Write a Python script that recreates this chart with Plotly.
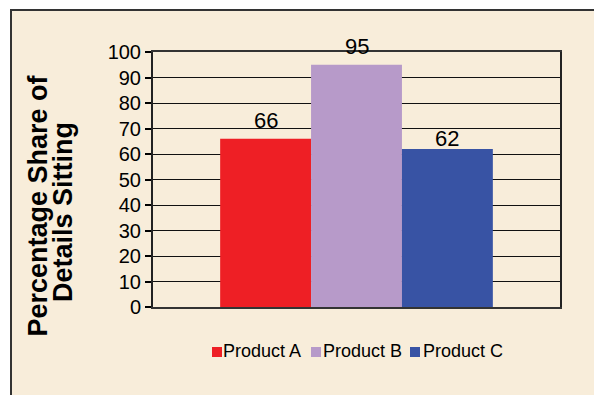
import plotly.graph_objects as go

# ---- data ----
products = ["Product A", "Product B", "Product C"]
values = [66, 95, 62]
colors = ["#EE1F25", "#B79AC9", "#3853A4"]
y_title_lines = ["Percentage Share of", "Details Sitting"]
y_ticks = list(range(0, 101, 10))

# ---- layout geometry (pixels) ----
W, H = 594, 395
L, R, T, B = 153, 560, 52, 307
PW, PH = R - L, B - T
BG = "#F8EDDA"
FONT = "Liberation Sans, Arial, sans-serif"

def px_x(px):
    return (px - L) / PW

def px_y(py):
    return (B - py) / PH

bargap = 0.33
bar_w = (1 - bargap) / len(products)

fig = go.Figure()
for name, v, c in zip(products, values, colors):
    fig.add_trace(go.Bar(x=[0], y=[v], name=name, marker=dict(color=c, line=dict(width=0)),
                         showlegend=False, hoverinfo="y"))

annotations = []
# value labels above bars
label_shift = [18, 18, 10]
for i, (v, s) in enumerate(zip(values, label_shift)):
    annotations.append(dict(x=(i - (len(values) - 1) / 2) * bar_w, y=v, xref="x", yref="y",
                            text=str(v), showarrow=False, yanchor="middle", yshift=s,
                            font=dict(size=22, color="black", family=FONT)))

# y-axis title (two rotated lines)
title_pos = [(37.5, 206), (62.5, 212.5)]
for txt, (tx, ty) in zip(y_title_lines, title_pos):
    annotations.append(dict(x=px_x(tx), y=px_y(ty), xref="paper", yref="paper",
                            text="<b>" + txt + "</b>", textangle=-90, showarrow=False,
                            xanchor="center", yanchor="middle",
                            font=dict(size=27, color="black", family=FONT)))

# custom legend
sq_left = [212, 311, 410]
txt_left = [221, 321, 421]
leg_y = 352
shapes = [
    dict(type="rect", xref="paper", yref="paper",
         x0=px_x(11), x1=px_x(W + 20), y0=px_y(10), y1=px_y(H + 20),
         fillcolor=BG, line=dict(color="#333333", width=2), layer="below"),
]
for name, c, sx, tx in zip(products, colors, sq_left, txt_left):
    shapes.append(dict(type="rect", xref="paper", yref="paper",
                       x0=px_x(sx), x1=px_x(sx + 10), y0=px_y(leg_y + 5), y1=px_y(leg_y - 5),
                       fillcolor=c, line=dict(width=0)))
    annotations.append(dict(x=px_x(tx), y=px_y(leg_y - 1), xref="paper", yref="paper",
                            text=name, showarrow=False, xanchor="left", yanchor="middle",
                            font=dict(size=18, color="black", family=FONT)))

fig.update_layout(
    width=W, height=H,
    margin=dict(l=L, r=W - R, t=T, b=H - B, pad=0),
    paper_bgcolor="white", plot_bgcolor=BG,
    barmode="group", bargap=bargap, bargroupgap=0,
    showlegend=False,
    font=dict(family=FONT, color="black"),
    shapes=shapes, annotations=annotations,
    xaxis=dict(type="linear", range=[-0.5, 0.5], showticklabels=False, ticks="",
               showgrid=False, zeroline=False, showline=True, mirror=True,
               linecolor="#333333", linewidth=2, fixedrange=True),
    yaxis=dict(range=[0, 100], tickvals=y_ticks, ticks="outside", ticklen=6,
               tickcolor="black", tickwidth=1.5, showgrid=True, gridcolor="#111111",
               gridwidth=1.3, zeroline=False, showline=True, mirror=True,
               linecolor="#222222", linewidth=2, tickfont=dict(size=20, color="black"),
               fixedrange=True),
)

fig.write_html("out.html")
